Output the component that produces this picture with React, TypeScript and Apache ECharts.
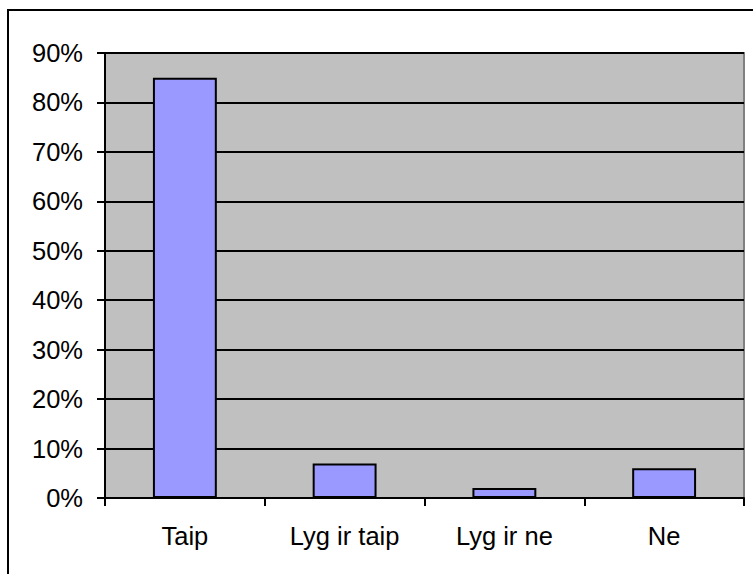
import React, { useEffect, useRef } from "react";
import * as echarts from "echarts";

const categories = ["Taip", "Lyg ir taip", "Lyg ir ne", "Ne"];
const values = [0.85, 0.07, 0.02, 0.06];

export default function App() {
  const ref = useRef<HTMLDivElement>(null);
  useEffect(() => {
    if (!ref.current) return;
    const chart = echarts.init(ref.current, null, { renderer: "svg" });
    const font = "'Liberation Sans', Arial, sans-serif";
    chart.setOption({
      animation: false,
      backgroundColor: "#ffffff",
      graphic: [
        {
          type: "rect",
          shape: { x: 8, y: 10, width: 760, height: 580 },
          style: { fill: "none", stroke: "#000", lineWidth: 2 },
          silent: true,
          z: 100,
        },
      ],
      grid: {
        left: 105,
        top: 53,
        width: 639,
        height: 445,
        show: true,
        backgroundColor: "#C0C0C0",
        borderColor: "#808080",
        borderWidth: 2,
      },
      xAxis: {
        type: "category",
        data: categories,
        axisLine: { show: true, lineStyle: { color: "#000", width: 2 } },
        axisTick: { show: true, length: 8, lineStyle: { color: "#000", width: 2 } },
        axisLabel: { color: "#000", fontSize: 25.5, fontFamily: font, margin: 25 },
        splitLine: { show: false },
      },
      yAxis: {
        type: "value",
        min: 0,
        max: 0.9,
        interval: 0.1,
        axisLine: { show: true, lineStyle: { color: "#000", width: 2 } },
        axisTick: { show: true, length: 8, lineStyle: { color: "#000", width: 2 } },
        axisLabel: {
          color: "#000",
          fontSize: 25.5,
          fontFamily: font,
          margin: 22,
          formatter: (v: number) => Math.round(v * 100) + "%",
        },
        splitLine: { show: true, lineStyle: { color: "#000", width: 2 } },
      },
      series: [
        {
          type: "bar",
          data: values,
          barWidth: "40%",
          itemStyle: { color: "#9999FF", borderColor: "#000", borderWidth: 2 },
        },
      ],
    });
    return () => chart.dispose();
  }, []);
  return (
    <div
      ref={ref}
      style={{ position: "fixed", left: 0, top: 0, width: 753, height: 574 }}
    />
  );
}
